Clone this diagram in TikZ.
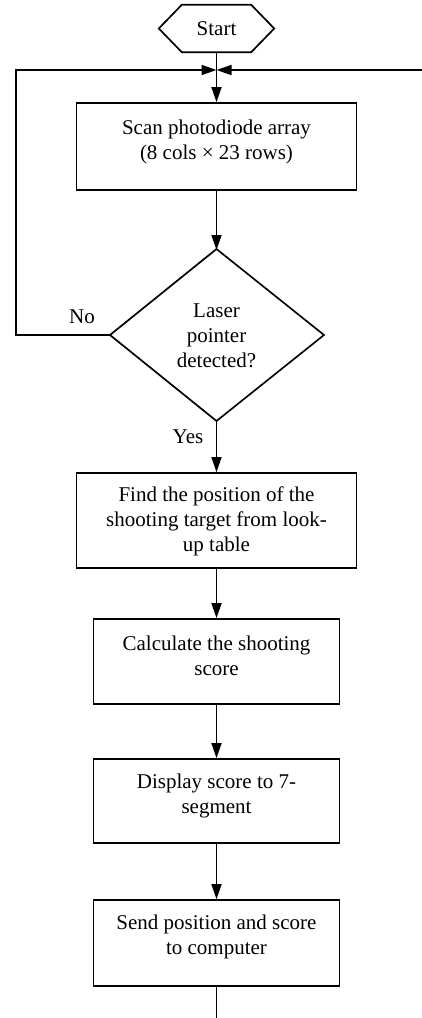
\documentclass[tikz,border=0pt]{standalone}
\usepackage{fontspec}
\setmainfont{Liberation Serif}
\usetikzlibrary{arrows.meta}
\tikzset{
  flow/.style={line width=1.7pt, draw=black},
  arr/.style={flow, -{Triangle[length=15pt,width=10pt]}},
  stepbox/.style={flow, rectangle, inner sep=0pt},
  txt/.style={align=center, inner sep=0pt, font=\fontsize{21}{25}\selectfont},
}
\begin{document}
\begin{tikzpicture}[x=1pt,y=-1pt]
\useasboundingbox (0,0) rectangle (422,1018);

% start terminal (hexagon drawn from the node's anchors)
\node[txt, minimum width=115pt, minimum height=47pt] (start) at (216.5,28.5) {Start};
\draw[flow, line join=miter] (start.west) -- ([xshift=23pt]start.north west) -- ([xshift=-23pt]start.north east)
  -- (start.east) -- ([xshift=-23pt]start.south east) -- ([xshift=23pt]start.south west) -- cycle;

% process boxes
\node[stepbox, minimum width=280pt, minimum height=87pt] (scan) at (216.5,146.5) {};
\node[txt] (scantxt) at (216.5,141.5) {Scan photodiode array\\(8 cols × 23 rows)};

% decision diamond
\coordinate (dtop) at (216.5,249);
\coordinate (dbot) at (216.5,421);
\coordinate (dleft) at (110,335);
\coordinate (dright) at (324,335);
\draw[flow] (dtop) -- (dright) -- (dbot) -- (dleft) -- cycle;
\node[txt] (dectxt) at (216.5,336) {Laser\\pointer\\detected?};

\node[stepbox, minimum width=280pt, minimum height=95pt] (find) at (216.5,520.5) {};
\node[txt] (findtxt) at (216.5,521.5) {Find the position of the\\shooting target from look-\\up table};

\node[stepbox, minimum width=246pt, minimum height=85pt] (calc) at (216.5,661.5) {};
\node[txt] (calctxt) at (216.5,655.5) {Calculate the shooting\\score};

\node[stepbox, minimum width=246pt, minimum height=84pt] (disp) at (216.5,801) {};
\node[txt] (disptxt) at (216.5,795.5) {Display score to 7-\\segment};

\node[stepbox, minimum width=246pt, minimum height=86pt] (send) at (216.5,943) {};
\node[txt] (sendtxt) at (216.5,936.5) {Send position and score\\to computer};

% junction above the scan step
\coordinate (join) at (216.5,70);
\coordinate (loopL) at (16,70);
\coordinate (loopLB) at (16,335);
\coordinate (inR) at (422,70);
\coordinate (outB) at (216.5,1018);

% connectors
\draw[arr] (start.south) -- (scan.north);
\draw[arr] (dleft) -- (loopLB) -- (loopL) -- (join);
\draw[arr] (inR) -- (join);
\draw[arr] (scan.south) -- ([yshift=-1pt]dtop);
\draw[arr] (dbot) -- (find.north);
\draw[arr] (find.south) -- (calc.north);
\draw[arr] (calc.south) -- (disp.north);
\draw[arr] (disp.south) -- (send.north);
\draw[flow] (send.south) -- (outB);

% branch labels
\node[txt] (no) at (82,317) {No};
\node[txt] (yes) at (188,437) {Yes};
\end{tikzpicture}
\end{document}
